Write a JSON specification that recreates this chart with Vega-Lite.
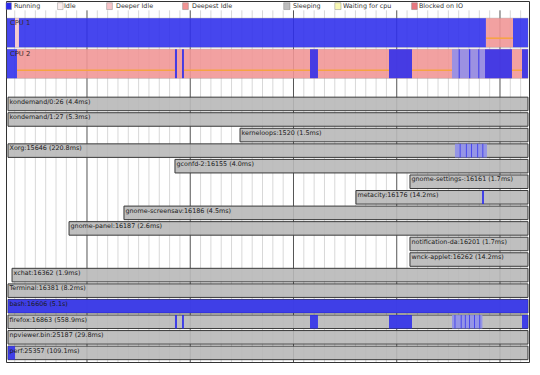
{
  "$schema": "https://vega.github.io/schema/vega-lite/v6.json",
  "width": 523,
  "height": 361,
  "autosize": {"type": "none"},
  "padding": {"left": 6, "top": 1, "right": 11, "bottom": 13},
  "background": "white",
  "config": {"view": {"stroke": "#333333", "strokeWidth": 1}},
  "datasets": {
    "major": [{"t": 1}, {"t": 2}, {"t": 3}, {"t": 4}, {"t": 5}],
    "minor": [
      {"t": 0.3}, {"t": 0.4}, {"t": 0.5}, {"t": 0.6}, {"t": 0.7}, {"t": 0.8}, {"t": 0.9},
      {"t": 1.1}, {"t": 1.2}, {"t": 1.3}, {"t": 1.4}, {"t": 1.5}, {"t": 1.6}, {"t": 1.7}, {"t": 1.8}, {"t": 1.9},
      {"t": 2.1}, {"t": 2.2}, {"t": 2.3}, {"t": 2.4}, {"t": 2.5}, {"t": 2.6}, {"t": 2.7}, {"t": 2.8}, {"t": 2.9},
      {"t": 3.1}, {"t": 3.2}, {"t": 3.3}, {"t": 3.4}, {"t": 3.5}, {"t": 3.6}, {"t": 3.7}, {"t": 3.8}, {"t": 3.9},
      {"t": 4.1}, {"t": 4.2}, {"t": 4.3}, {"t": 4.4}, {"t": 4.5}, {"t": 4.6}, {"t": 4.7}, {"t": 4.8}, {"t": 4.9},
      {"t": 5.1}, {"t": 5.2}
    ],
    "cpu": [
      {"name": "CPU 1", "t0": 0.225, "t1": 5.271, "y0": -5.04, "y1": -3.18},
      {"name": "CPU 2", "t0": 0.225, "t1": 5.271, "y0": -3.05, "y1": -1.19}
    ],
    "procs": [
      {"label": "kondemand/0:26 (4.4ms)", "t0": 0.235, "t1": 5.271, "y0": 0.03, "y1": 0.9},
      {"label": "kondemand/1:27 (5.3ms)", "t0": 0.235, "t1": 5.271, "y0": 1.03, "y1": 1.9},
      {"label": "kerneloops:1520 (1.5ms)", "t0": 2.482, "t1": 5.271, "y0": 2.03, "y1": 2.9},
      {"label": "Xorg:15646 (220.8ms)", "t0": 0.235, "t1": 5.271, "y0": 3.03, "y1": 3.9},
      {"label": "gconfd-2:16155 (4.0ms)", "t0": 1.852, "t1": 5.271, "y0": 4.03, "y1": 4.9},
      {"label": "gnome-settings-:16161 (1.7ms)", "t0": 4.128, "t1": 5.271, "y0": 5.03, "y1": 5.9},
      {"label": "metacity:16176 (14.2ms)", "t0": 3.605, "t1": 5.271, "y0": 6.03, "y1": 6.9},
      {"label": "gnome-screensav:16186 (4.5ms)", "t0": 1.358, "t1": 5.271, "y0": 7.03, "y1": 7.9},
      {"label": "gnome-panel:16187 (2.6ms)", "t0": 0.826, "t1": 5.271, "y0": 8.03, "y1": 8.9},
      {"label": "notification-da:16201 (1.7ms)", "t0": 4.128, "t1": 5.271, "y0": 9.03, "y1": 9.9},
      {"label": "wnck-applet:16262 (14.2ms)", "t0": 4.128, "t1": 5.271, "y0": 10.03, "y1": 10.9},
      {"label": "xchat:16362 (1.9ms)", "t0": 0.274, "t1": 5.271, "y0": 11.03, "y1": 11.9},
      {"label": "Terminal:16381 (8.2ms)", "t0": 0.235, "t1": 5.271, "y0": 12.03, "y1": 12.9},
      {"label": "bash:16606 (5.1s)", "t0": 0.235, "t1": 5.271, "y0": 13.03, "y1": 13.9},
      {"label": "firefox:16863 (558.9ms)", "t0": 0.235, "t1": 5.271, "y0": 14.03, "y1": 14.9},
      {"label": "npviewer.bin:25187 (29.8ms)", "t0": 0.235, "t1": 5.271, "y0": 15.03, "y1": 15.9},
      {"label": "perf:25357 (109.1ms)", "t0": 0.235, "t1": 5.271, "y0": 16.03, "y1": 16.9}
    ],
    "segs": [
      {"state": "Running", "t0": 0.225, "t1": 0.303, "y0": -5.04, "y1": -3.18},
      {"state": "Deeper Idle", "t0": 0.303, "t1": 0.341, "y0": -5.04, "y1": -3.18},
      {"state": "Running", "t0": 0.341, "t1": 4.864, "y0": -5.04, "y1": -3.18},
      {"state": "Deepest Idle", "t0": 4.864, "t1": 5.126, "y0": -5.04, "y1": -3.18},
      {"state": "Running", "t0": 5.126, "t1": 5.271, "y0": -5.04, "y1": -3.18},
      {"state": "Running", "t0": 0.225, "t1": 0.322, "y0": -3.05, "y1": -1.19},
      {"state": "Deepest Idle", "t0": 0.322, "t1": 5.271, "y0": -3.05, "y1": -1.19},
      {"state": "Running", "t0": 1.852, "t1": 1.872, "y0": -3.05, "y1": -1.19},
      {"state": "Running", "t0": 1.920, "t1": 1.939, "y0": -3.05, "y1": -1.19},
      {"state": "Running", "t0": 3.160, "t1": 3.237, "y0": -3.05, "y1": -1.19},
      {"state": "Running", "t0": 3.925, "t1": 4.148, "y0": -3.05, "y1": -1.19},
      {"state": "Partial", "t0": 4.535, "t1": 4.855, "y0": -3.05, "y1": -1.19},
      {"state": "Running", "t0": 4.600, "t1": 4.610, "y0": -3.05, "y1": -1.19},
      {"state": "Running", "t0": 4.700, "t1": 4.712, "y0": -3.05, "y1": -1.19},
      {"state": "Running", "t0": 4.790, "t1": 4.800, "y0": -3.05, "y1": -1.19},
      {"state": "Running", "t0": 4.855, "t1": 5.116, "y0": -3.05, "y1": -1.19},
      {"state": "Running", "t0": 5.213, "t1": 5.271, "y0": -3.05, "y1": -1.19},
      {"state": "Partial", "t0": 4.564, "t1": 4.874, "y0": 3.03, "y1": 3.9},
      {"state": "Running", "t0": 4.610, "t1": 4.618, "y0": 3.03, "y1": 3.9},
      {"state": "Running", "t0": 4.670, "t1": 4.678, "y0": 3.03, "y1": 3.9},
      {"state": "Running", "t0": 4.720, "t1": 4.728, "y0": 3.03, "y1": 3.9},
      {"state": "Running", "t0": 4.780, "t1": 4.788, "y0": 3.03, "y1": 3.9},
      {"state": "Running", "t0": 4.830, "t1": 4.838, "y0": 3.03, "y1": 3.9},
      {"state": "Running", "t0": 4.826, "t1": 4.845, "y0": 6.03, "y1": 6.9},
      {"state": "Running", "t0": 0.235, "t1": 5.271, "y0": 13.03, "y1": 13.9},
      {"state": "Running", "t0": 1.852, "t1": 1.872, "y0": 14.03, "y1": 14.9},
      {"state": "Running", "t0": 1.920, "t1": 1.939, "y0": 14.03, "y1": 14.9},
      {"state": "Running", "t0": 3.160, "t1": 3.237, "y0": 14.03, "y1": 14.9},
      {"state": "Running", "t0": 3.925, "t1": 4.148, "y0": 14.03, "y1": 14.9},
      {"state": "Partial", "t0": 4.535, "t1": 4.830, "y0": 14.03, "y1": 14.9},
      {"state": "Running", "t0": 4.560, "t1": 4.568, "y0": 14.03, "y1": 14.9},
      {"state": "Running", "t0": 4.620, "t1": 4.628, "y0": 14.03, "y1": 14.9},
      {"state": "Running", "t0": 4.660, "t1": 4.668, "y0": 14.03, "y1": 14.9},
      {"state": "Running", "t0": 4.700, "t1": 4.708, "y0": 14.03, "y1": 14.9},
      {"state": "Running", "t0": 4.750, "t1": 4.758, "y0": 14.03, "y1": 14.9},
      {"state": "Running", "t0": 4.800, "t1": 4.808, "y0": 14.03, "y1": 14.9},
      {"state": "Running", "t0": 5.213, "t1": 5.271, "y0": 14.03, "y1": 14.9},
      {"state": "Running", "t0": 0.235, "t1": 0.303, "y0": 16.03, "y1": 16.9}
    ],
    "pstate": [
      {"t0": 0.322, "t1": 1.852, "y": -1.70},
      {"t0": 1.939, "t1": 3.160, "y": -1.70},
      {"t0": 3.237, "t1": 3.925, "y": -1.70},
      {"t0": 4.148, "t1": 4.535, "y": -1.70},
      {"t0": 5.116, "t1": 5.213, "y": -1.70},
      {"t0": 4.864, "t1": 5.126, "y": -3.76}
    ],
    "legend": [
      {"state": "Running", "t0": 0.2155, "t1": 0.268, "tx": 0.293},
      {"state": "Idle", "t0": 0.715, "t1": 0.768, "tx": 0.777},
      {"state": "Deeper Idle", "t0": 1.190, "t1": 1.246, "tx": 1.281},
      {"state": "Deepest Idle", "t0": 1.926, "t1": 1.982, "tx": 2.017},
      {"state": "Sleeping", "t0": 2.905, "t1": 2.966, "tx": 2.995},
      {"state": "Waiting for cpu", "t0": 3.400, "t1": 3.460, "tx": 3.479},
      {"state": "Blocked on IO", "t0": 4.144, "t1": 4.200, "tx": 4.215}
    ]
  },
  "encoding": {
    "x": {"type": "quantitative", "scale": {"domain": [0.2155, 5.281], "nice": false, "zero": false}, "axis": null},
    "y": {"type": "quantitative", "scale": {"domain": [-6.15, 17.05], "nice": false, "zero": false, "reverse": true}, "axis": null}
  },
  "layer": [
    {
      "data": {"name": "minor"},
      "mark": {"type": "rule", "color": "#d8d8d8", "strokeWidth": 1},
      "encoding": {"x": {"field": "t", "type": "quantitative"}, "y": {"datum": -5.55}, "y2": {"datum": 17.05}}
    },
    {
      "data": {"name": "major"},
      "mark": {"type": "rule", "color": "#555555", "strokeWidth": 1},
      "encoding": {"x": {"field": "t", "type": "quantitative"}, "y": {"datum": -5.55}, "y2": {"datum": 17.05}}
    },
    {
      "data": {"name": "cpu"},
      "mark": {"type": "rect", "fill": "#c0c0c0", "fillOpacity": 0.2, "stroke": "#808080", "strokeWidth": 0.5},
      "encoding": {
        "x": {"field": "t0", "type": "quantitative"}, "x2": {"field": "t1"},
        "y": {"field": "y0", "type": "quantitative"}, "y2": {"field": "y1"}
      }
    },
    {
      "data": {"name": "procs"},
      "mark": {"type": "rect", "fill": "#b8b8b8", "fillOpacity": 0.9, "stroke": "#3a3a3a", "strokeWidth": 1},
      "encoding": {
        "x": {"field": "t0", "type": "quantitative"}, "x2": {"field": "t1"},
        "y": {"field": "y0", "type": "quantitative"}, "y2": {"field": "y1"}
      }
    },
    {
      "data": {"name": "segs"},
      "mark": {"type": "rect", "opacity": 0.86},
      "encoding": {
        "x": {"field": "t0", "type": "quantitative"}, "x2": {"field": "t1"},
        "y": {"field": "y0", "type": "quantitative"}, "y2": {"field": "y1"},
        "color": {
          "field": "state", "type": "nominal", "legend": null,
          "scale": {
            "domain": ["Running", "Idle", "Deeper Idle", "Deepest Idle", "Sleeping", "Waiting for cpu", "Blocked on IO", "Partial"],
            "range": ["#2a2aee", "#fbeeee", "#f6c4c8", "#f29494", "#bdbdbd", "#f8f8b4", "#e87880", "#8e8eec"]
          }
        }
      }
    },
    {
      "data": {"name": "pstate"},
      "mark": {"type": "rule", "color": "#f6a441", "strokeWidth": 1.5},
      "encoding": {
        "x": {"field": "t0", "type": "quantitative"}, "x2": {"field": "t1"},
        "y": {"field": "y", "type": "quantitative"}
      }
    },
    {
      "data": {"name": "cpu"},
      "mark": {"type": "text", "align": "left", "baseline": "top", "dx": 3, "dy": 2, "font": "DejaVu Sans", "fontSize": 6.8, "color": "#3a2a2a"},
      "encoding": {
        "x": {"field": "t0", "type": "quantitative"},
        "y": {"field": "y0", "type": "quantitative"},
        "text": {"field": "name"}
      }
    },
    {
      "data": {"name": "procs"},
      "mark": {"type": "text", "align": "left", "baseline": "top", "dx": 1.5, "dy": 1.5, "font": "DejaVu Sans", "fontSize": 6.4, "color": "#1a1a1a"},
      "encoding": {
        "x": {"field": "t0", "type": "quantitative"},
        "y": {"field": "y0", "type": "quantitative"},
        "text": {"field": "label"}
      }
    },
    {
      "data": {"name": "legend"},
      "mark": {"type": "rect", "stroke": "#777777", "strokeWidth": 0.4},
      "encoding": {
        "x": {"field": "t0", "type": "quantitative"}, "x2": {"field": "t1"},
        "y": {"datum": -6.04}, "y2": {"datum": -5.6},
        "color": {"field": "state", "type": "nominal", "legend": null}
      }
    },
    {
      "data": {"name": "legend"},
      "mark": {"type": "text", "align": "left", "baseline": "middle", "font": "DejaVu Sans", "fontSize": 6.4, "color": "#333333"},
      "encoding": {
        "x": {"field": "tx", "type": "quantitative"},
        "y": {"datum": -5.83},
        "text": {"field": "state"}
      }
    }
  ]
}
